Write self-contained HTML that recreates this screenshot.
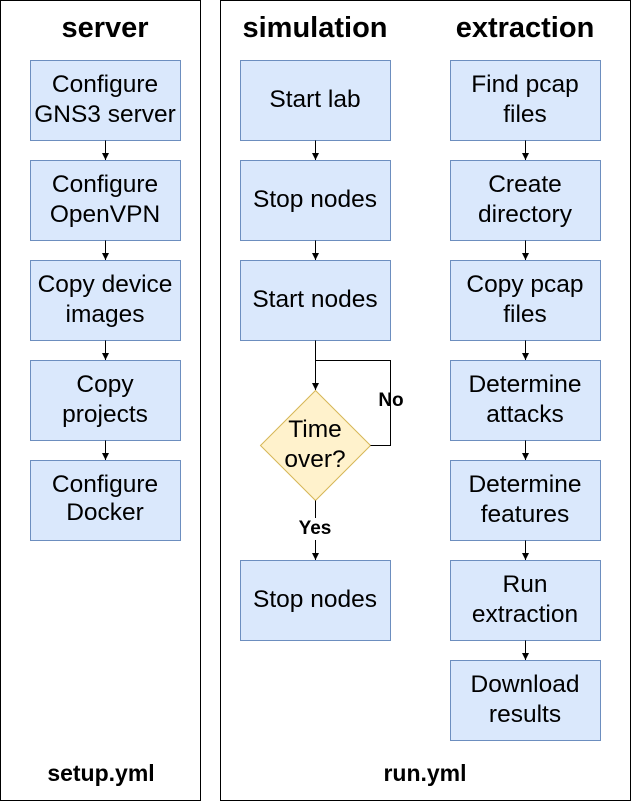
<!DOCTYPE html>
<html><head><style>body{margin:0;background:#fff}</style></head><body>
<svg width="632" height="802" xmlns="http://www.w3.org/2000/svg" font-family="Liberation Sans, Arial, sans-serif">
<defs><marker id="a" markerWidth="8" markerHeight="8" refX="7" refY="4" orient="auto" markerUnits="userSpaceOnUse"><path d="M0,0.5 L7,4 L0,7.5 Z" fill="#000"/></marker></defs>
<rect x="0.5" y="0.5" width="200" height="800" fill="none" stroke="#000"/>
<rect x="220.5" y="0.5" width="410" height="800" fill="none" stroke="#000"/>
<g font-weight="bold" font-size="29" text-anchor="middle">
<text x="105" y="37">server</text><text x="315" y="37">simulation</text><text x="525" y="37">extraction</text>
</g>
<g font-weight="bold" font-size="23" text-anchor="middle">
<text x="101" y="781">setup.yml</text><text x="425" y="781">run.yml</text>
</g>
<g fill="#dae8fc" stroke="#6c8ebf">
<rect x="30.5" y="60.5" width="150" height="80"/><rect x="30.5" y="160.5" width="150" height="80"/><rect x="30.5" y="260.5" width="150" height="80"/><rect x="30.5" y="360.5" width="150" height="80"/><rect x="30.5" y="460.5" width="150" height="80"/>
<rect x="240.5" y="60.5" width="150" height="80"/><rect x="240.5" y="160.5" width="150" height="80"/><rect x="240.5" y="260.5" width="150" height="80"/><rect x="240.5" y="560.5" width="150" height="80"/>
<rect x="450.5" y="60.5" width="150" height="80"/><rect x="450.5" y="160.5" width="150" height="80"/><rect x="450.5" y="260.5" width="150" height="80"/><rect x="450.5" y="360.5" width="150" height="80"/><rect x="450.5" y="460.5" width="150" height="80"/><rect x="450.5" y="560.5" width="150" height="80"/><rect x="450.5" y="660.5" width="150" height="80"/>
</g>
<path d="M315.5,390.5 L370.5,445.5 L315.5,500.5 L260.5,445.5 Z" fill="#fff2cc" stroke="#d6b656"/>
<g stroke="#000" fill="none" marker-end="url(#a)">
<line x1="105.5" y1="140.5" x2="105.5" y2="160"/><line x1="105.5" y1="240.5" x2="105.5" y2="260"/><line x1="105.5" y1="340.5" x2="105.5" y2="360"/><line x1="105.5" y1="440.5" x2="105.5" y2="460"/>
<line x1="315.5" y1="140.5" x2="315.5" y2="160"/><line x1="315.5" y1="240.5" x2="315.5" y2="260"/><line x1="315.5" y1="340.5" x2="315.5" y2="390"/>
<line x1="315.5" y1="540" x2="315.5" y2="560"/>
<line x1="525.5" y1="140.5" x2="525.5" y2="160"/><line x1="525.5" y1="240.5" x2="525.5" y2="260"/><line x1="525.5" y1="340.5" x2="525.5" y2="360"/><line x1="525.5" y1="440.5" x2="525.5" y2="460"/><line x1="525.5" y1="540.5" x2="525.5" y2="560"/><line x1="525.5" y1="640.5" x2="525.5" y2="660"/>
</g>
<g stroke="#000" fill="none">
<polyline points="370.5,445.5 390.5,445.5 390.5,360.5 315.5,360.5"/>
<line x1="315.5" y1="500.5" x2="315.5" y2="518"/>
</g>
<g font-weight="bold" font-size="19" text-anchor="middle">
<text x="391" y="406">No</text><text x="315" y="534">Yes</text>
</g>
<g font-size="24.5" text-anchor="middle" fill="#000">
<text x="105" y="92">Configure</text><text x="105" y="122">GNS3 server</text>
<text x="105" y="192">Configure</text><text x="105" y="222">OpenVPN</text>
<text x="105" y="292">Copy device</text><text x="105" y="322">images</text>
<text x="105" y="392">Copy</text><text x="105" y="422">projects</text>
<text x="105" y="492">Configure</text><text x="105" y="520">Docker</text>
<text x="315" y="107">Start lab</text><text x="315" y="207">Stop nodes</text><text x="315" y="307">Start nodes</text>
<text x="315" y="437">Time</text><text x="315" y="467">over?</text>
<text x="315" y="607">Stop nodes</text>
<text x="525" y="92">Find pcap</text><text x="525" y="122">files</text>
<text x="525" y="192">Create</text><text x="525" y="222">directory</text>
<text x="525" y="292">Copy pcap</text><text x="525" y="322">files</text>
<text x="525" y="392">Determine</text><text x="525" y="422">attacks</text>
<text x="525" y="492">Determine</text><text x="525" y="522">features</text>
<text x="525" y="592">Run</text><text x="525" y="622">extraction</text>
<text x="525" y="692">Download</text><text x="525" y="722">results</text>
</g>
</svg>
</body></html>
